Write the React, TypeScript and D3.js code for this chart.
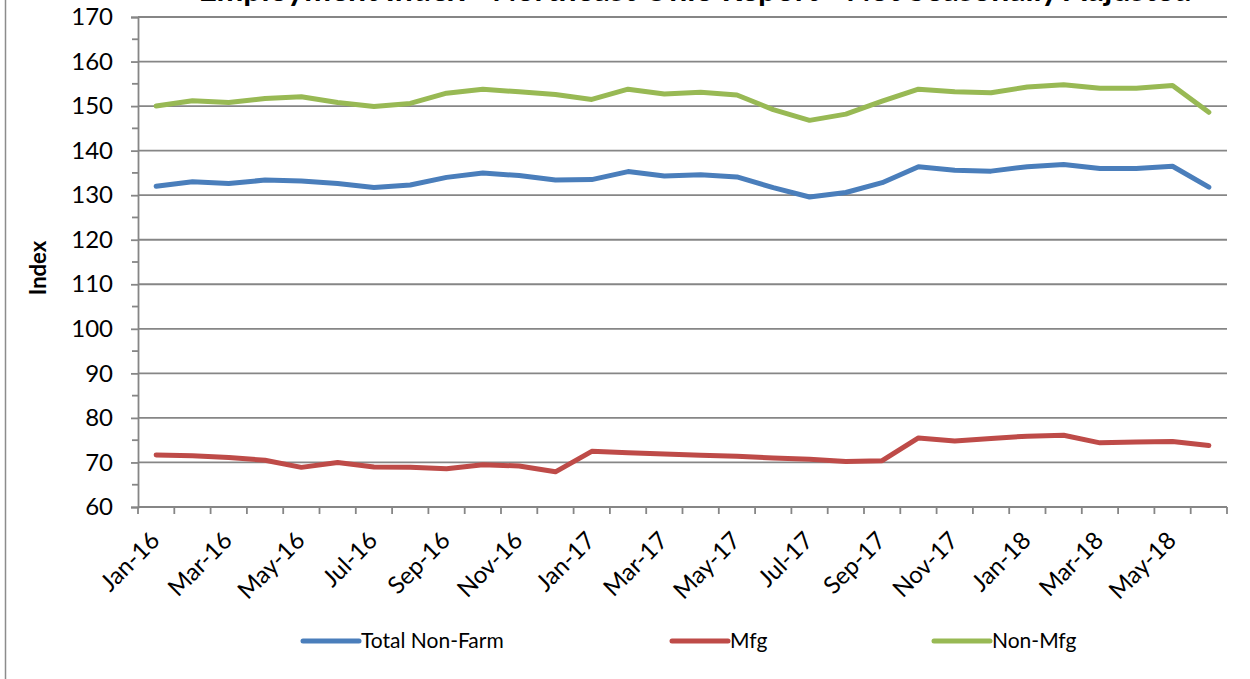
import React, { useEffect, useRef } from 'react';
import * as d3 from 'd3';

const months = [
  'Jan-16', 'Feb-16', 'Mar-16', 'Apr-16', 'May-16', 'Jun-16', 'Jul-16', 'Aug-16', 'Sep-16', 'Oct-16', 'Nov-16', 'Dec-16',
  'Jan-17', 'Feb-17', 'Mar-17', 'Apr-17', 'May-17', 'Jun-17', 'Jul-17', 'Aug-17', 'Sep-17', 'Oct-17', 'Nov-17', 'Dec-17',
  'Jan-18', 'Feb-18', 'Mar-18', 'Apr-18', 'May-18', 'Jun-18',
];

const totalNonFarm = [
  132.0, 133.0, 132.6, 133.4, 133.2, 132.6, 131.7, 132.3, 134.0, 135.0, 134.4, 133.4,
  133.5, 135.3, 134.3, 134.6, 134.1, 131.7, 129.6, 130.6, 132.8, 136.4, 135.6, 135.4,
  136.4, 136.9, 136.0, 136.0, 136.5, 131.8,
];

const mfg = [
  71.7, 71.5, 71.1, 70.5, 68.9, 70.0, 69.0, 68.9, 68.6, 69.5, 69.2, 67.9,
  72.5, 72.2, 71.9, 71.6, 71.4, 71.0, 70.7, 70.2, 70.4, 75.5, 74.8, 75.4,
  75.9, 76.1, 74.4, 74.6, 74.7, 73.8,
];

const nonMfg = [
  150.0, 151.2, 150.8, 151.7, 152.1, 150.8, 149.9, 150.6, 152.9, 153.8, 153.2, 152.6,
  151.5, 153.8, 152.7, 153.1, 152.5, 149.2, 146.8, 148.2, 151.1, 153.8, 153.2, 153.0,
  154.3, 154.8, 154.0, 154.0, 154.6, 148.6,
];

const yTicks = [60, 70, 80, 90, 100, 110, 120, 130, 140, 150, 160, 170];
const yMinorTicks = [65, 75, 85, 95, 105, 115, 125, 135, 145, 155, 165];

const seriesNames = ['Total Non-Farm', 'Mfg', 'Non-Mfg'];
const seriesColors = ['#4A7EBB', '#BE4B48', '#98B954'];

const W = 1250;
const H = 679;
const FONT = 'Lato, "Open Sans", sans-serif';

const App = () => {
  const svgRef = useRef<SVGSVGElement>(null);

  useEffect(() => {
    const svg = d3.select(svgRef.current);
    svg.selectAll('*').remove();

    const left = 138;
    const right = 1227;
    const top = 17;
    const bottom = 507;

    const x = d3.scaleBand().domain(months).range([left, right]).padding(0);
    const cx = (m: string) => (x(m) as number) + x.bandwidth() / 2;
    const y = d3.scaleLinear().domain([60, 170]).range([bottom, top]);

    // outer chart border (left edge only visible)
    svg.append('line')
      .attr('x1', 5.5).attr('x2', 5.5).attr('y1', 0).attr('y2', H)
      .attr('stroke', '#8c8c8c').attr('stroke-width', 1.5);

    // title, mostly above the visible area as in the source
    svg.append('text')
      .attr('x', 695).attr('y', 1)
      .attr('text-anchor', 'middle')
      .style('font-family', FONT).style('font-weight', 700).style('font-size', '32px')
      .text('Employment Index - Northeast Ohio Report - Not Seasonally Adjusted');

    // gridlines
    svg.append('g')
      .selectAll('line')
      .data(yTicks)
      .enter()
      .append('line')
      .attr('x1', left).attr('x2', right)
      .attr('y1', d => y(d)).attr('y2', d => y(d))
      .attr('stroke', '#868686').attr('stroke-width', 1.8);

    // y axis
    const yAxis = svg.append('g')
      .attr('transform', `translate(${left},0)`)
      .call(d3.axisLeft(y).tickValues(yTicks).tickSize(7).tickPadding(18).tickFormat(d3.format('d')));
    yAxis.select('.domain').attr('stroke', '#868686').attr('stroke-width', 1.8);
    yAxis.selectAll('.tick line').attr('stroke', '#868686').attr('stroke-width', 1.8);
    yAxis.selectAll('.tick text')
      .style('font-family', FONT).style('font-size', '24px').attr('fill', '#000');

    svg.append('g')
      .selectAll('line')
      .data(yMinorTicks)
      .enter()
      .append('line')
      .attr('x1', left - 6).attr('x2', left)
      .attr('y1', d => y(d)).attr('y2', d => y(d))
      .attr('stroke', '#868686').attr('stroke-width', 1.8);

    // x axis line + ticks between categories
    svg.append('line')
      .attr('x1', left).attr('x2', right).attr('y1', bottom).attr('y2', bottom)
      .attr('stroke', '#868686').attr('stroke-width', 1.8);
    const boundaries = months.map(m => x(m) as number).concat([right]);
    svg.append('g')
      .selectAll('line')
      .data(boundaries)
      .enter()
      .append('line')
      .attr('x1', d => d).attr('x2', d => d)
      .attr('y1', bottom).attr('y2', bottom + 7)
      .attr('stroke', '#868686').attr('stroke-width', 1.8);

    svg.append('g')
      .selectAll('text')
      .data(months.filter((_, i) => i % 2 === 0))
      .enter()
      .append('text')
      .attr('transform', d => `translate(${cx(d) - 1},${bottom + 29}) rotate(-45)`)
      .attr('text-anchor', 'end')
      .attr('dy', '0.35em')
      .style('font-family', FONT).style('font-size', '24px')
      .text(d => d);

    // y axis title
    svg.append('text')
      .attr('transform', `translate(38,268) rotate(-90)`)
      .attr('text-anchor', 'middle')
      .attr('dy', '0.35em')
      .style('font-family', FONT).style('font-weight', 700).style('font-size', '22px')
      .text('Index');

    // series lines
    const allSeries = [totalNonFarm, mfg, nonMfg];
    const line = d3.line<number>()
      .x((_, i) => cx(months[i]))
      .y(d => y(d));

    svg.append('g')
      .selectAll('path')
      .data(allSeries)
      .enter()
      .append('path')
      .attr('d', d => line(d))
      .attr('fill', 'none')
      .attr('stroke', (_, i) => seriesColors[i])
      .attr('stroke-width', 5)
      .attr('stroke-linejoin', 'round')
      .attr('stroke-linecap', 'round');

    // legend
    const legendX = [303, 672, 934];
    const legendY = 641;
    const lg = svg.append('g')
      .selectAll('g')
      .data(seriesNames)
      .enter()
      .append('g')
      .attr('transform', (_, i) => `translate(${legendX[i]},${legendY})`);
    lg.append('line')
      .attr('x1', 0).attr('x2', 56).attr('y1', 0).attr('y2', 0)
      .attr('stroke', (_, i) => seriesColors[i])
      .attr('stroke-width', 5)
      .attr('stroke-linecap', 'round');
    lg.append('text')
      .attr('x', 58).attr('y', 0).attr('dy', '0.35em')
      .style('font-family', FONT).style('font-size', '21px')
      .text(d => d);
  }, []);

  return (
    <svg ref={svgRef} width={W} height={H}
      style={{ position: 'absolute', left: 0, top: 0, background: '#fff' }} />
  );
};

export default App;
